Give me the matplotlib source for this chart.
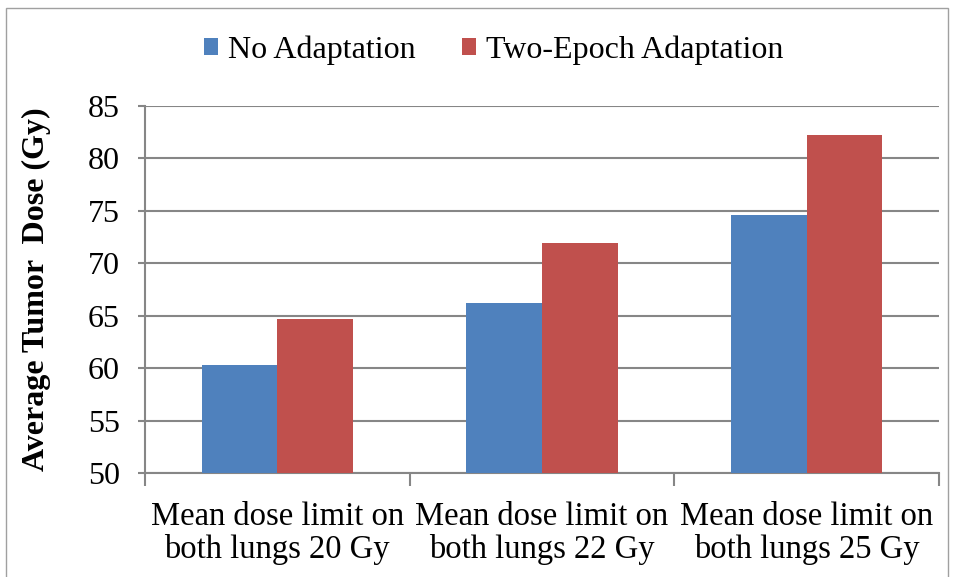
import numpy as np
import matplotlib.pyplot as plt
from matplotlib.patches import Rectangle

categories = ['Mean dose limit on\nboth lungs 20 Gy',
              'Mean dose limit on\nboth lungs 22 Gy',
              'Mean dose limit on\nboth lungs 25 Gy']
no_adapt = [60.3, 66.2, 74.6]
two_epoch = [64.7, 71.9, 82.2]
series_names = ['No Adaptation', 'Two-Epoch Adaptation']
yticks = [50, 55, 60, 65, 70, 75, 80, 85]

def main():
    plt.rcParams['font.family'] = ['Liberation Serif', 'DejaVu Serif']
    grey = '#868686'

    fig = plt.figure(figsize=(9.56, 5.77), dpi=100)
    ax = fig.add_axes([0.1517, 0.1797, 0.8305, 0.6371])

    x = np.arange(len(categories))
    w = 0.286
    ax.bar(x - w / 2, no_adapt, w, color='#4F81BD', label=series_names[0], zorder=3)
    ax.bar(x + w / 2, two_epoch, w, color='#C0504D', label=series_names[1], zorder=3)

    ax.set_xlim(-0.5, len(categories) - 0.5)
    ax.set_ylim(50, 85)
    ax.set_yticks(yticks)
    ax.yaxis.grid(True, color=grey, linewidth=1.5, zorder=0)
    ax.set_axisbelow(True)

    # category labels centred, ticks on the boundaries
    ax.set_xticks(x)
    ax.set_xticklabels(categories, fontsize=23.5, linespacing=1.12)
    ax.tick_params(axis='x', length=0, pad=20)
    ax.set_xticks(np.arange(len(categories) + 1) - 0.5, minor=True)
    ax.tick_params(axis='x', which='minor', length=9, width=1.5, color=grey)
    ax.tick_params(axis='y', length=5, width=1.5, color=grey, labelsize=23, pad=13)

    for s in ['top', 'right']:
        ax.spines[s].set_visible(False)
    for s in ['left', 'bottom']:
        ax.spines[s].set_color(grey)
        ax.spines[s].set_linewidth(1.5)

    ax.set_ylabel('Average Tumor  Dose (Gy)', fontsize=23, fontweight='bold')
    ax.yaxis.set_label_coords(-0.118, 0.5)

    fig.legend(loc='center', bbox_to_anchor=(0.516, 0.913), ncol=2, frameon=False,
               fontsize=23, handlelength=0.45, handleheight=0.45, handletextpad=0.3,
               columnspacing=1.45)

    # light border round the whole chart
    fig.patches.append(Rectangle((0.006, -0.01), 0.986, 0.996, transform=fig.transFigure,
                                 fill=False, edgecolor='#a0a0a0', linewidth=1))

    fig.savefig('out.png', dpi=100)

if __name__ == '__main__':
    main()
